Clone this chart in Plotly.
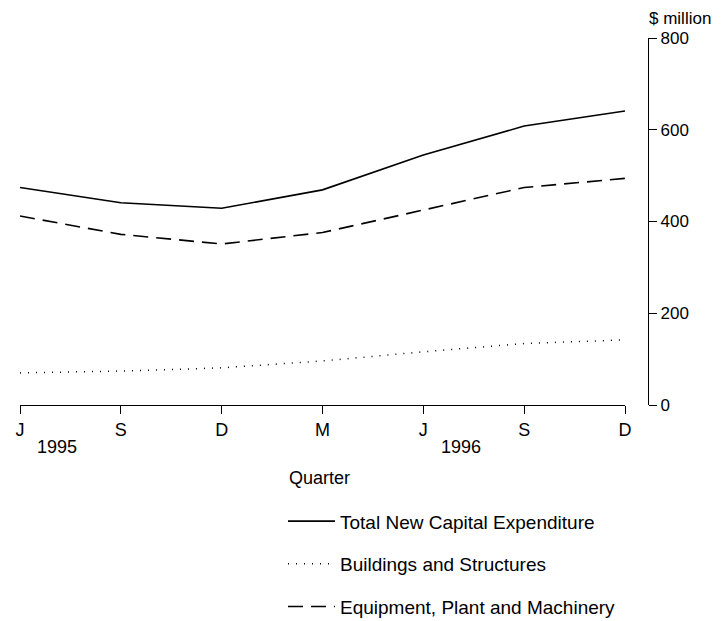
import plotly.graph_objects as go

quarters = ["J", "S", "D", "M", "J", "S", "D"]
total = [474, 441, 429, 469, 545, 608, 641]
buildings = [70, 74, 81, 96, 116, 134, 142]
equipment = [412, 372, 351, 376, 425, 474, 494]
y_ticks = [0, 200, 400, 600, 800]
year_labels = [("1995", 0.37), ("1996", 4.37)]

FONT = "Liberation Sans"
xs = list(range(len(quarters)))

fig = go.Figure()
fig.add_trace(go.Scatter(x=xs, y=total, mode="lines", name="Total New Capital Expenditure",
                         legendgroup="a", line=dict(color="black", width=1.6)))
fig.add_trace(go.Scatter(x=xs, y=buildings, mode="lines", name="Buildings and Structures",
                         legendgroup="b", line=dict(color="black", width=1.5, dash="1px,7px")))
fig.add_trace(go.Scatter(x=xs, y=equipment, mode="lines", name="Equipment, Plant and Machinery",
                         legendgroup="c", line=dict(color="black", width=1.6, dash="15px,8px")))

fig.update_layout(
    width=719, height=613,
    margin=dict(l=12, r=79, t=30, b=216, autoexpand=False),
    paper_bgcolor="white", plot_bgcolor="white",
    font=dict(family=FONT, size=17, color="black"),
    xaxis=dict(domain=[0, 605/628], range=[0, 6], tickmode="array", tickvals=xs,
               ticktext=quarters, showline=True, linecolor="black", linewidth=1.2,
               ticks="outside", ticklen=8, tickcolor="black", showgrid=False,
               zeroline=False, tickfont=dict(size=18), automargin=False),
    yaxis=dict(range=[0, 800], side="right", anchor="free", position=1,
               tickvals=y_ticks, showline=True, linecolor="black", linewidth=1.2,
               ticks="outside", ticklen=8, tickcolor="black", showgrid=False,
               zeroline=False, tickfont=dict(size=17), automargin=False),
    showlegend=True,
    legend=dict(x=(283 - 20) / 628, y=-0.265, xanchor="left", yanchor="top",
                traceorder="grouped", tracegroupgap=15, itemwidth=47,
                font=dict(size=19), bgcolor="rgba(0,0,0,0)"),
)

for label, xpos in year_labels:
    fig.add_annotation(x=xpos, y=-0.114, xref="x", yref="paper", text=label,
                       showarrow=False, font=dict(size=18), xanchor="center", yanchor="middle")
fig.add_annotation(x=2.97, y=-0.199, xref="x", yref="paper", text="Quarter",
                   showarrow=False, font=dict(size=18), xanchor="center", yanchor="middle")
fig.add_annotation(x=1.051, y=1.054, xref="paper", yref="paper", text="$ million",
                   showarrow=False, font=dict(size=17), xanchor="center", yanchor="middle")

fig.write_html("out.html")
